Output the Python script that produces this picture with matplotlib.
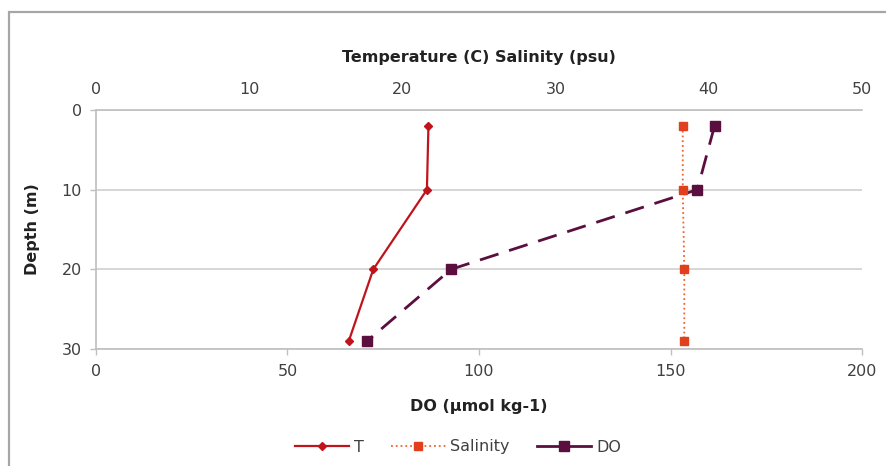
import matplotlib
matplotlib.use("Agg")
import matplotlib.pyplot as plt
from matplotlib.patches import Rectangle
from matplotlib.lines import Line2D

# Profile data by sampling depth
depth = [2, 10, 20, 29]
temp = [21.7, 21.6, 18.1, 16.5]
salinity = [38.3, 38.3, 38.4, 38.4]
do = [161.5, 157.0, 92.7, 70.8]

depth_ticks = [0, 10, 20, 30]
top_ticks = [0, 10, 20, 30, 40, 50]
do_ticks = [0, 50, 100, 150, 200]

plt.rcParams['font.family'] = ['DejaVu Sans']
grey = '#BFBFBF'
label_col = '#404040'
fs = 11.5

t_col = '#C0141C'
s_col = '#F0642D'
s_mark = '#E0401E'
do_col = '#5B0F3F'

fig = plt.figure(figsize=(8.87, 4.66), dpi=100)
# chart area border
fig.patches.append(Rectangle((9 / 887, -0.01), 1.0, 1 - 12 / 466 + 0.01,
                             transform=fig.transFigure, fill=False,
                             edgecolor='#A6A6A6', linewidth=1.6))

ax = fig.add_axes([96 / 887, 1 - 349 / 466, (862 - 96) / 887, (349 - 110) / 466])
ax2 = ax.twiny()

# DO on the bottom axis
ax.plot(do, depth, color=do_col, linestyle=(0, (7, 4)), linewidth=2,
        marker='s', markersize=6.5, zorder=3)

# temperature and salinity on the top axis
ax2.plot(temp, depth, color=t_col, linewidth=1.6,
         marker='D', markersize=4, zorder=4)
ax2.plot(salinity, depth, color=s_col, linestyle=':', linewidth=1.3,
         marker='s', markersize=5.5, markerfacecolor=s_mark,
         markeredgecolor=s_mark, zorder=4)

ax.set_ylim(30, 0)
ax.set_yticks(depth_ticks)
ax.set_xlim(0, 200)
ax.set_xticks(do_ticks)
ax2.set_xlim(0, 50)
ax2.set_xticks(top_ticks)

for a in (ax, ax2):
    for side in ('left', 'right', 'top', 'bottom'):
        a.spines[side].set_visible(False)
ax.spines['left'].set_visible(True)
ax.spines['bottom'].set_visible(True)
ax2.spines['top'].set_visible(True)
for sp in (ax.spines['left'], ax.spines['bottom'], ax2.spines['top']):
    sp.set_color(grey)
    sp.set_linewidth(1.2)

ax.yaxis.grid(True, color='#D0D0D0', linewidth=1.2)
ax.set_axisbelow(True)

ax.tick_params(axis='x', colors=grey, labelcolor=label_col, labelsize=fs,
               length=4, width=1, pad=7)
ax.tick_params(axis='y', colors=grey, labelcolor=label_col, labelsize=fs,
               length=4, width=1, pad=6)
ax2.tick_params(axis='x', length=0, labelcolor=label_col, labelsize=fs, pad=9)

ax.set_xlabel('DO (µmol kg-1)', fontsize=fs, fontweight='bold', color='#222222', labelpad=14)
ax.set_ylabel('Depth (m)', fontsize=fs, fontweight='bold', color='#222222', labelpad=16)
ax2.set_xlabel('Temperature (C) Salinity (psu)', fontsize=fs, fontweight='bold',
               color='#222222', labelpad=15)

# legend keys drawn as in the chart legend
h_t = Line2D([], [], color=t_col, linewidth=1.6, marker='D', markersize=4)
h_s = Line2D([], [], color=s_col, linestyle=':', linewidth=1.3, marker='s',
             markersize=5.5, markerfacecolor=s_mark, markeredgecolor=s_mark)
h_do = Line2D([], [], color=do_col, linewidth=2, marker='s', markersize=6.5)
fig.legend(handles=[h_t, h_s, h_do], labels=['T', 'Salinity', 'DO'],
           loc='center', bbox_to_anchor=(458 / 887, 1 - 447 / 466),
           ncol=3, frameon=False, fontsize=fs, handlelength=3.4, columnspacing=1.7,
           handletextpad=0.3, labelcolor=label_col)

fig.savefig('out.png', dpi=100, facecolor='white')
